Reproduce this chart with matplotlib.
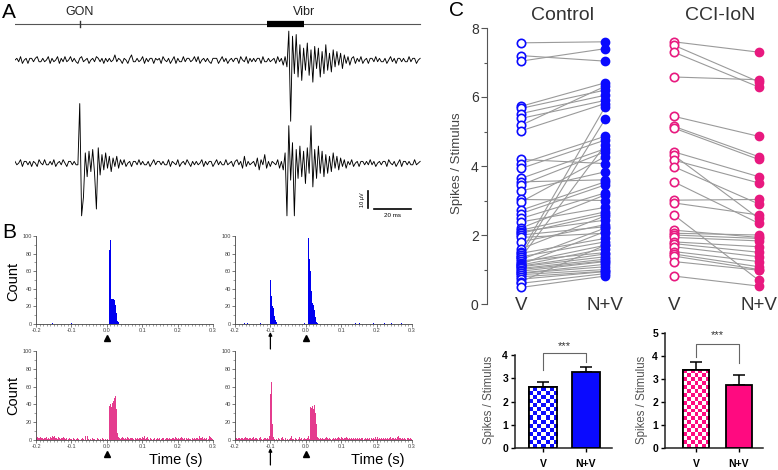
import numpy as np
import matplotlib
matplotlib.use('Agg')
import matplotlib.pyplot as plt
from matplotlib.transforms import blended_transform_factory as btf
from matplotlib.colors import ListedColormap

plt.rcParams['font.family'] = ['Liberation Sans', 'DejaVu Sans']

# ---------------- data ----------------
# Panel A: example recordings (µV, 1 ms per sample)
trace_vibr = [0,1,-1,2,-2,0,1,-2,1,1,-1,1,2,-1,-1,1,-1,0,2,-2,
              1,-1,0,2,-2,1,-1,2,-1,0,2,-1,1,-1,-2,1,2,-1,0,1,
              -2,0,1,-1,2,1,-1,1,-2,1,-1,1,-1,0,3,-1,1,0,-2,1,
              0,-2,1,3,-1,-1,1,-1,0,2,-2,1,-1,1,1,-2,1,0,1,-2,
              2,0,-1,1,-2,0,2,-2,1,-1,-1,2,-1,1,1,-1,0,2,-1,2,
              -2,0,1,-1,1,-1,-2,1,1,1,-2,0,2,-1,1,-2,0,1,-1,1,
              1,-2,2,0,-1,2,-2,1,-1,1,-1,1,1,-2,2,-1,-1,1,-1,0,
              1,-2,2,-1,1,-3,2,-4,17,-36,14,-8,15,-10,9,-12,7,-6,10,-9,
              6,-13,8,-5,7,-10,5,-8,9,-6,4,-7,6,-4,5,-3,4,-5,3,-2,
              2,-3,1,2,-2,1,-1,2,-2,0,1,-2,1,1,-1,2,-1,1,-1,-1,
              1,-2,0,2,-1,1,-2,1,1,-1,1,-1,-1,2,-1,1,1,-2,0,1]
trace_gon_vibr = [1,-1,0,2,-2,1,1,-1,1,-2,1,0,-2,2,0,-1,2,-1,-1,1,
                  -1,2,-2,0,1,-1,2,0,-2,1,1,-1,1,-1,-1,35,-31,-20,6,-8,
                  7,-5,8,-6,-27,9,-7,5,-4,6,-3,4,-5,3,-2,4,-3,2,-1,2,
                  -2,0,1,-2,1,1,-1,2,-1,1,-1,-1,1,-2,0,2,-1,1,1,-1,
                  1,-1,-1,2,-2,1,0,-1,2,-2,0,1,-1,2,0,-2,1,-1,1,-1,
                  0,2,-2,1,-1,1,1,-2,0,2,-1,1,-1,-1,2,-1,0,1,-2,1,
                  2,-1,1,-3,4,-2,1,-1,0,1,-2,3,-4,2,-1,5,-3,1,-2,1,
                  0,-1,2,-3,1,-4,6,-31,22,-10,12,-31,8,-9,10,-8,7,-12,9,-6,
                  22,-14,8,-9,10,-6,7,-8,5,-6,4,-5,6,-3,4,-4,3,-2,2,-3,
                  1,-1,2,-2,0,1,-2,1,1,-1,1,-1,2,-1,1,-2,0,1,-1,1,
                  1,-2,2,0,-1,1,-2,0,2,-2,1,1,-1,1,-1,-1,2,-1,0,1]
gon_time_ms = 35
vibr_on_ms, vibr_off_ms = 136, 156

# Panel B: PSTHs (2.5 ms bins from -0.2 s)
bin_width = 0.0025
hist_start = -0.2
ctrl_v_t = [-0.155, -0.1, 0.0075, 0.01, 0.0125, 0.015, 0.0175, 0.02, 0.0225, 0.025, 0.0275, 0.03, 0.0325]
ctrl_v_n = [1, 1, 84, 95, 28, 28, 28, 27, 22, 12, 6, 3, 2]
ctrl_nv_t = [-0.175, -0.165, -0.13, -0.125, -0.1, -0.0975, -0.095, -0.0925, -0.09, -0.0875, -0.085,
             -0.005, 0.0075, 0.01, 0.0125, 0.015, 0.0175, 0.02, 0.0225, 0.025, 0.0275, 0.03, 0.0325,
             0.14, 0.15, 0.19, 0.22, 0.24, 0.27]
ctrl_nv_n = [1, 1, 1, 1, 50, 32, 21, 18, 9, 4, 2,
             1, 98, 74, 60, 38, 24, 22, 16, 8, 4, 2, 1,
             1, 1, 1, 1, 1, 1]
cci_v_counts = [2,3,2,2,1,3,2,2,1,2,2,3,1,2,2,1,3,2,4,3,
                4,3,2,2,1,3,2,1,2,2,1,3,2,1,2,0,1,2,1,0,
                1,0,2,1,0,1,2,0,1,0,0,1,2,1,0,5,4,0,5,1,
                0,1,0,2,1,0,1,0,0,2,1,0,1,1,0,2,1,0,1,0,
                1,0,3,38,40,37,42,44,47,49,35,20,8,3,2,1,2,3,2,1,
                2,2,1,3,2,1,2,2,3,2,1,0,2,1,2,1,2,1,2,1,
                3,2,4,1,2,3,0,1,0,2,1,0,1,2,0,0,1,2,1,2,
                0,1,2,3,2,0,1,2,2,1,2,1,0,1,2,2,1,3,2,1,
                5,2,1,2,3,2,1,2,0,1,2,1,2,1,1,0,2,1,3,2,
                1,2,2,1,4,2,1,2,3,1,2,1,2,0,1,2,5,3,2,1]
cci_nv_counts = [2,2,1,2,3,2,1,2,2,1,2,3,2,1,2,1,2,2,1,2,
                 3,2,1,2,2,1,0,2,3,1,2,0,1,2,2,1,2,1,4,2,
                 52,65,18,3,1,0,1,2,0,2,1,0,2,3,1,0,1,2,0,1,
                 0,1,2,4,1,0,1,0,2,1,0,1,3,0,1,2,0,1,2,1,
                 1,2,0,4,1,37,36,38,35,39,30,25,18,3,2,1,2,1,2,1,
                 2,1,2,3,2,1,2,1,2,0,1,2,1,2,1,2,3,1,2,1,
                 3,2,1,2,2,3,1,2,1,2,1,2,1,2,2,1,2,1,2,1,
                 2,1,2,1,2,0,1,2,1,2,1,2,1,0,2,1,2,1,3,1,
                 2,3,1,2,1,2,1,2,1,3,2,1,2,1,2,3,1,2,1,2,
                 1,2,1,3,4,2,1,2,1,2,1,2,1,0,2,1,2,1,2,1]

# Panel C: paired spikes / stimulus
ctrl_v = [7.57, 7.2, 7.04, 5.73, 5.67, 5.52, 5.38, 5.18, 5.02,
          4.19, 4.07, 3.93, 3.64, 3.54, 3.45, 3.28, 3.03, 2.96, 2.72, 2.62,
          2.48, 2.38, 2.2, 2.14, 2.1, 2.05, 2.0, 1.93, 1.8, 1.6,
          1.5, 1.47, 1.42, 1.37, 1.35, 1.29, 1.25, 1.2, 1.15, 1.13,
          1.1, 1.08, 1.03, 1.0, 0.95, 0.9, 0.89, 0.85, 0.79, 0.72,
          0.65, 0.6, 0.48]
ctrl_nv = [7.6, 7.04, 7.4, 6.41, 6.2, 6.05, 5.9, 6.31, 5.81,
           4.07, 4.86, 4.75, 4.5, 3.6, 4.41, 3.83, 3.0, 4.27, 3.54, 3.45,
           3.22, 2.8, 3.16, 2.67, 2.43, 2.6, 2.24, 2.05, 2.3, 2.55,
           5.71, 1.9, 5.35, 1.8, 4.6, 2.2, 1.49, 1.7, 2.1, 1.6,
           1.45, 1.37, 1.3, 1.25, 1.23, 1.15, 1.08, 1.0, 0.95, 0.94,
           1.7, 0.88, 0.81]
cci_v = [7.6, 7.5, 7.3, 6.58, 5.44, 5.15, 5.1, 4.41, 4.31, 4.17, 3.98, 3.54, 3.01,
         2.93, 2.58, 2.14, 2.05, 2.0, 1.93, 1.8, 1.75, 1.66, 1.52, 1.45, 1.39, 1.23, 0.81]
cci_nv = [7.3, 6.44, 6.29, 6.5, 4.86, 4.27, 4.19, 3.69, 2.48, 3.51, 2.9, 2.34, 3.03,
          2.58, 0.69, 1.93, 2.0, 1.9, 1.83, 1.66, 1.5, 1.37, 1.23, 1.08, 1.0, 0.98, 0.52]

bar_labels = ['V', 'N+V']
ctrl_mean = [2.62, 3.25]
ctrl_sem = [0.20, 0.25]
cci_mean = [3.40, 2.75]
cci_sem = [0.35, 0.43]

# ---------------- layout helpers ----------------
W, H = 778, 470
fig = plt.figure(figsize=(W / 100, H / 100), dpi=100)


def add_ax(x0, y0, x1, y1):
    return fig.add_axes([x0 / W, 1 - y1 / H, (x1 - x0) / W, (y1 - y0) / H])


def ftext(x, y, s, **kw):
    fig.text(x / W, 1 - y / H, s, **kw)


BLUE = '#0a0aff'
PINK = '#e8197f'
HBLUE = '#0000f0'
HPINK = '#e43c8e'
BPINK = '#ff0a80'

# ---------------- Panel A ----------------
ftext(2, 12, 'A', fontsize=15, va='center', ha='left')
axA = add_ax(15, 0, 422, 225)
axA.set_axis_off()
axA.set_xlim(0, 220)
axA.set_ylim(-97, 35.3)
t_ms = np.arange(len(trace_vibr))
trace_offset = -60.6
axA.plot(t_ms, np.array(trace_vibr), color='black', lw=0.65)
axA.plot(t_ms, np.array(trace_gon_vibr) + trace_offset, color='black', lw=0.65)
trA = btf(axA.transData, axA.transAxes)
stim_y = 1 - 24 / 225
axA.plot([0, 219], [stim_y, stim_y], transform=trA, color='#555555', lw=0.8)
axA.plot([gon_time_ms, gon_time_ms], [stim_y - 0.012, stim_y + 0.012], transform=trA, color='#333333', lw=1)
axA.plot([vibr_on_ms, vibr_off_ms], [stim_y, stim_y], transform=trA, color='black', lw=4.5, solid_capstyle='butt')
axA.text(gon_time_ms, 1 - 12 / 225, 'GON', transform=trA, ha='center', va='center', fontsize=9, color='#222222')
axA.text(vibr_off_ms, 1 - 12 / 225, 'Vibr', transform=trA, ha='center', va='center', fontsize=9, color='#222222')
# scale bars
axA.plot([191, 191], [-87, -77], color='black', lw=1.2)
axA.plot([194, 214], [-87.5, -87.5], color='black', lw=1.2)
axA.text(188, -82, '10 µV', rotation=90, ha='center', va='center', fontsize=4)
axA.text(204, -90, '20 ms', ha='center', va='top', fontsize=4.5)

# ---------------- Panel B ----------------
ftext(2, 233, 'B', fontsize=15, va='center', ha='left')


def hist_ax(x0, y0, x1, y1, times, counts, color):
    ax = add_ax(x0, y0, x1, y1)
    ax.bar(times, counts, width=bin_width, align='edge', color=color, lw=0)
    ax.set_xlim(-0.2, 0.3)
    ax.set_ylim(0, 100)
    for s in ['top', 'right']:
        ax.spines[s].set_visible(False)
    for s in ['left', 'bottom']:
        ax.spines[s].set_linewidth(0.6)
        ax.spines[s].set_color('#444444')
    ax.set_xticks([-0.2, -0.1, 0.0, 0.1, 0.2, 0.3], ['-0.2', '-0.1', '0.0', '0.1', '0.2', '0.3'])
    ax.set_xticks(np.linspace(-0.2, 0.3, 51), minor=True)
    ax.set_yticks([0, 20, 40, 60, 80, 100])
    ax.set_yticks([10, 30, 50, 70, 90], minor=True)
    ax.tick_params(which='major', labelsize=4, length=2, width=0.5, pad=1, colors='#444444')
    ax.tick_params(which='minor', length=1.2, width=0.4, colors='#555555')
    return ax


bins = hist_start + np.arange(len(cci_v_counts)) * bin_width
axTL = hist_ax(36, 236, 213, 324, ctrl_v_t, ctrl_v_n, HBLUE)
axTR = hist_ax(235, 236, 412, 324, ctrl_nv_t, ctrl_nv_n, HBLUE)
axBL = hist_ax(36, 351, 213, 440, bins, cci_v_counts, HPINK)
axBR = hist_ax(235, 351, 412, 440, bins, cci_nv_counts, HPINK)


def mark(ax, tri_frac, arrow=None):
    tr = btf(ax.transData, ax.transAxes)
    ax.plot([0], [tri_frac], marker='^', color='black', ms=4.5, transform=tr, clip_on=False)
    if arrow is not None:
        ax.annotate('', xy=(-0.1, arrow[0]), xytext=(-0.1, arrow[1]), xycoords=tr, textcoords=tr,
                    arrowprops=dict(arrowstyle='-|>', color='black', lw=0.9, mutation_scale=5,
                                    shrinkA=0, shrinkB=0), annotation_clip=False)


mark(axTL, -14 / 88)
mark(axTR, -14 / 88, arrow=(-8 / 88, -25 / 88))
mark(axBL, -14 / 89)
mark(axBR, -14 / 89, arrow=(-8 / 89, -25 / 89))

for y in (281, 395):
    ftext(13, y, 'Count', rotation=90, ha='center', va='center', fontsize=10.5)
ftext(176, 460, 'Time (s)', ha='center', va='center', fontsize=10.5)
ftext(378, 460, 'Time (s)', ha='center', va='center', fontsize=10.5)

# ---------------- Panel C (paired) ----------------
ftext(449, 11, 'C', fontsize=15, va='center', ha='left')
group_x = [0, 1, 1.82, 2.83]
axC = add_ax(487, 28, 778, 304)
axC.set_xlim(-0.405, 3.06)
axC.set_ylim(0, 8)
for s in ['top', 'right', 'bottom']:
    axC.spines[s].set_visible(False)
axC.spines['left'].set_color('#555555')
axC.spines['left'].set_linewidth(0.8)
axC.set_xticks([])
axC.set_yticks([0, 2, 4, 6, 8])
axC.set_yticks([1, 3, 5, 7], minor=True)
axC.tick_params(axis='y', which='major', labelsize=10, length=4, width=0.8, colors='#555555', labelcolor='#333333', pad=2)
axC.tick_params(axis='y', which='minor', length=2.5, width=0.8, colors='#555555')

for xa, xb, va, vb, col in [(group_x[0], group_x[1], ctrl_v, ctrl_nv, BLUE),
                            (group_x[2], group_x[3], cci_v, cci_nv, PINK)]:
    for a, b in zip(va, vb):
        axC.plot([xa, xb], [a, b], color='#9a9a9a', lw=0.8, zorder=1)
    axC.plot([xa] * len(va), va, 'o', ms=6, mfc='white', mec=col, mew=1.2, zorder=3, clip_on=False, ls='none')
    axC.plot([xb] * len(vb), vb, 'o', ms=6, mfc=col, mec=col, mew=1.0, zorder=3, clip_on=False, ls='none')

for xg, lab in zip(group_x, bar_labels * 2):
    axC.text(xg, -0.03, lab, ha='center', va='center', fontsize=13.5, color='#333333')
ftext(563, 15, 'Control', ha='center', va='center', fontsize=14, color='#333333')
ftext(720, 15, 'CCI-IoN', ha='center', va='center', fontsize=14, color='#333333')
ftext(457, 163, 'Spikes / Stimulus', rotation=90, ha='center', va='center', fontsize=9.5, color='#444444')


# ---------------- Panel C (bars) ----------------
def bar_ax(x0, x1, ytop_px, ymax, means, sems, color, xlim, width, bracket, star_y, ylab_x):
    ax = add_ax(x0, ytop_px, x1, 448)
    ax.set_xlim(*xlim)
    ax.set_ylim(0, ymax)
    xs = np.arange(len(means))
    bars = ax.bar(xs, means, width=width, color=['white', color], edgecolor='black', lw=1.3, zorder=3)
    ax.errorbar(xs, means, yerr=[[0] * len(sems), sems], fmt='none', ecolor='black', elinewidth=1.1,
                capsize=4, capthick=1.1, zorder=2)
    # checkerboard for V bar
    p = bars[0]
    pxx = ax.get_position().width * W / (xlim[1] - xlim[0])
    pxy = ax.get_position().height * H / ymax
    ncol = max(1, int(round(p.get_width() * pxx / 4.0)))
    nrow = max(1, int(round(p.get_height() * pxy / 4.0)))
    checker = (np.add.outer(np.arange(nrow), np.arange(ncol)) % 2)
    im = ax.imshow(checker, cmap=ListedColormap(['white', color]), origin='lower', aspect='auto',
                   interpolation='nearest',
                   extent=[p.get_x(), p.get_x() + p.get_width(), 0, p.get_height()], zorder=3.5)
    im.set_clip_path(p)
    p2 = plt.Rectangle((p.get_x(), 0), p.get_width(), p.get_height(), fill=False, edgecolor='black', lw=1.3, zorder=4)
    ax.add_patch(p2)
    ax.set_xlim(*xlim)
    ax.set_ylim(0, ymax)
    for s in ['top', 'right']:
        ax.spines[s].set_visible(False)
    for s in ['left', 'bottom']:
        ax.spines[s].set_linewidth(1.1)
        ax.spines[s].set_color('#222222')
    ax.set_yticks(np.arange(0, ymax + 1))
    ax.set_xticks(xs, bar_labels)
    ax.tick_params(labelsize=7.5, length=3, width=1, pad=2)
    for lbl in ax.get_xticklabels() + ax.get_yticklabels():
        lbl.set_fontweight('bold')
    ax.tick_params(axis='x', pad=5)
    ytop, yl, yr = bracket
    ax.plot([0, 0, 1, 1], [yl, ytop, ytop, yr], color='#666666', lw=0.8, clip_on=False)
    ax.text(0.5, star_y, '***', ha='center', va='center', fontsize=8, color='#333333')
    ftext(ylab_x, 400, 'Spikes / Stimulus', rotation=90, ha='center', va='center', fontsize=8.3, color='#555555')
    return ax


bar_ax(515, 612, 355, 4, ctrl_mean, ctrl_sem, BLUE, (-0.66, 1.62), 0.66, (4.09, 3.35, 3.7), 4.4, 489)
bar_ax(665, 763, 333, 5, cci_mean, cci_sem, BPINK, (-0.72, 1.56), 0.61, (4.52, 3.96, 3.7), 4.9, 642)

fig.savefig('out.png', dpi=100)
